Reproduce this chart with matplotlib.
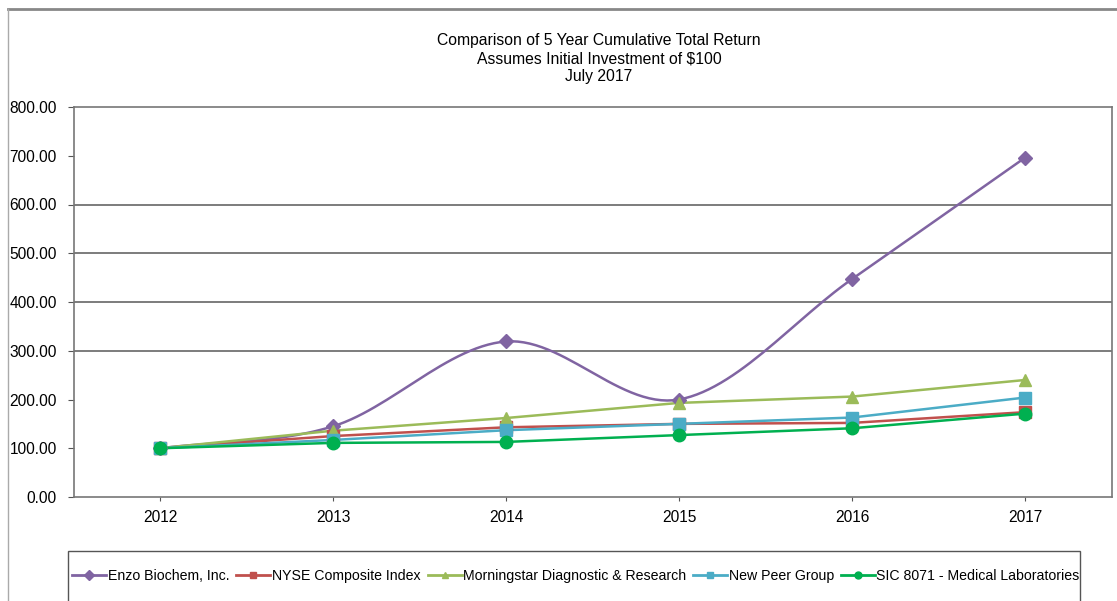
import numpy as np
import matplotlib
matplotlib.use('Agg')
import matplotlib.pyplot as plt
from matplotlib.patches import Rectangle
from matplotlib.lines import Line2D

plt.rcParams['font.family'] = ['Liberation Sans', 'DejaVu Sans']

years = ['2012', '2013', '2014', '2015', '2016', '2017']
enzo = [100, 145, 319, 200, 447, 696]
nyse = [100, 125, 143, 150, 152, 174]
morningstar = [100, 136, 162, 193, 206, 240]
peer = [100, 117, 137, 150, 163, 204]
sic = [100, 111, 113, 127, 141, 171]

series = [
    ('Enzo Biochem, Inc.', enzo, '#8064A2', 'D', 7, True),
    ('NYSE Composite Index', nyse, '#C0504D', 's', 8, False),
    ('Morningstar Diagnostic & Research', morningstar, '#9BBB59', '^', 9, False),
    ('New Peer Group', peer, '#4BACC6', 's', 8, False),
    ('SIC 8071 - Medical Laboratories', sic, '#00B050', 'o', 9, False),
]


def smooth(x, y, n=30):
    # catmull-rom path through the points, like Excel's smoothed line
    x = np.asarray(x, float)
    y = np.asarray(y, float)
    px = np.concatenate([[2 * x[0] - x[1]], x, [2 * x[-1] - x[-2]]])
    py = np.concatenate([[2 * y[0] - y[1]], y, [2 * y[-1] - y[-2]]])
    xs, ys = [], []
    t = np.linspace(0, 1, n)
    for i in range(1, len(px) - 2):
        for p, out in ((px, xs), (py, ys)):
            p0, p1, p2, p3 = p[i - 1], p[i], p[i + 1], p[i + 2]
            out.extend(0.5 * ((2 * p1) + (-p0 + p2) * t
                              + (2 * p0 - 5 * p1 + 4 * p2 - p3) * t ** 2
                              + (-p0 + 3 * p1 - 3 * p2 + p3) * t ** 3))
    return xs, ys


fig = plt.figure(figsize=(11.17, 6.01), dpi=100)
W, H = 1117, 601
ax = fig.add_axes([73.5 / W, 1 - 497 / H, (1111.5 - 73.5) / W, (497 - 107) / H])

x = np.arange(len(years))
handles = []
for name, vals, col, mk, ms, smoothed in series:
    if smoothed:
        sx, sy = smooth(x, vals)
        ax.plot(sx, sy, color=col, lw=1.8, zorder=3)
    else:
        ax.plot(x, vals, color=col, lw=1.8, zorder=3)
    ax.plot(x, vals, ls='none', marker=mk, ms=ms, color=col, zorder=4)
    handles.append(Line2D([], [], color=col, lw=2, marker=mk, ms=5))

ax.set_xlim(-0.5, len(years) - 0.5)
ax.set_ylim(0, 800)
ax.set_yticks(np.arange(0, 801, 100))
ax.set_yticklabels(['%.2f' % v for v in np.arange(0, 801, 100)])
ax.set_xticks(x)
ax.set_xticklabels(years)
ax.tick_params(labelsize=11.2, color='#555555', length=4, pad=8)
ax.tick_params(axis='x', length=3, pad=6)
for v in [300, 400, 500, 600]:
    ax.axhline(v, color='#666666', lw=1.2, zorder=1)
for s in ax.spines.values():
    s.set_color('#777777')
    s.set_linewidth(1.2)

fig.text(599 / W, 1 - 33 / H, 'Comparison of 5 Year Cumulative Total Return\n'
         'Assumes Initial Investment of $100\nJuly 2017',
         ha='center', va='top', fontsize=11.3, linespacing=1.26)

# outer frame lines and legend box
fig.add_artist(Line2D([8 / W, 1], [1 - 9 / H, 1 - 9 / H], color='#888888', lw=2))
fig.add_artist(Line2D([8 / W, 8 / W], [0, 1 - 9 / H], color='#aaaaaa', lw=1))
fig.add_artist(Rectangle((68 / W, -0.05), (1080 - 68) / W, 0.05 + 1 - 551 / H,
                         fill=False, ec='#555555', lw=1))

fig.legend(handles, [s[0] for s in series], loc='center', ncol=5,
           bbox_to_anchor=(576 / W, 1 - 576 / H), frameon=False, fontsize=10.2,
           handlelength=2.4, handletextpad=0.1, columnspacing=0.5)

fig.savefig('out.png', dpi=100)
